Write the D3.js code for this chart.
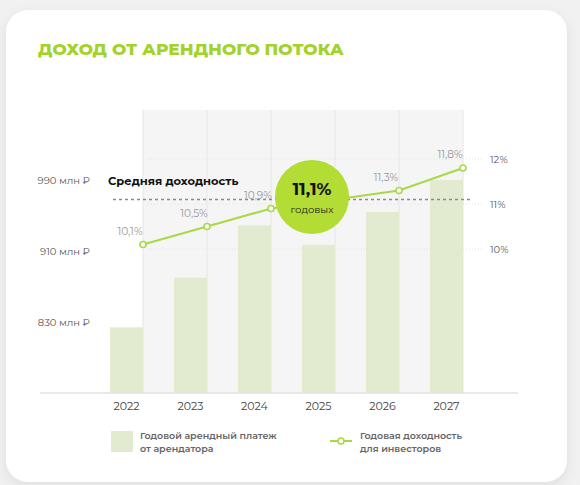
<!DOCTYPE html>
<html><head><meta charset="utf-8">
<script src="https://cdn.jsdelivr.net/npm/d3@7"></script>
<style>body{margin:0;background:#f1f1f1;font-family:Montserrat,"Open Sans","Noto Sans",sans-serif}</style>
</head><body><svg id="c" width="580" height="485"></svg>
<script>
const years=["2022","2023","2024","2025","2026","2027"];
const payments=[824,880,939,917,954,990];
const yields=[10.1,10.5,10.9,11.1,11.3,11.8];
const yieldLabels=["10,1%","10,5%","10,9%","","11,3%","11,8%"];
const leftTicks=[830,910,990];
const rightTicks=[10,11,12];
const avgYield=11.1;

(function(){
const svg=d3.select("#c");
const defs=svg.append("defs");
const f=defs.append("filter").attr("id","sh").attr("x","-10%").attr("y","-10%").attr("width","120%").attr("height","130%");
f.append("feDropShadow").attr("dx",0).attr("dy",4).attr("stdDeviation",6).attr("flood-color","#000").attr("flood-opacity",0.08);
svg.append("rect").attr("x",6).attr("y",10).attr("width",561).attr("height",472).attr("rx",22).attr("fill","#fff").attr("filter","url(#sh)");
svg.append("text").attr("x",38).attr("y",55).text("ДОХОД ОТ АРЕНДНОГО ПОТОКА")
 .attr("fill","#a3d22c").attr("font-size",17).attr("font-weight",800);

const base=393, topY=110;
const x=d3.scalePoint().domain(years).range([143,463]);
const yL=d3.scaleLinear().domain([750,990]).range([base,180]);
const yR=d3.scaleLinear().domain([10,12]).range([249,159]);
const bw=33;

svg.append("rect").attr("x",x(years[0])).attr("y",topY).attr("width",x(years[5])-x(years[0])).attr("height",base-topY).attr("fill","#f5f5f5");
svg.selectAll(".vg").data(years).join("line").attr("x1",d=>x(d)).attr("x2",d=>x(d)).attr("y1",topY).attr("y2",base).attr("stroke","#e6e6e6");
svg.selectAll(".lt").data(leftTicks).join("text").attr("x",90).attr("y",d=>yL(d)+4).attr("text-anchor","end")
 .attr("font-size",10).attr("fill","#555").text(d=>d+" млн ₽");
svg.selectAll(".rg").data(rightTicks).join("line").attr("x1",148).attr("x2",482).attr("y1",d=>yR(d)).attr("y2",d=>yR(d))
 .attr("stroke","#e4e4e4").attr("stroke-dasharray","1,2");
svg.selectAll(".rt").data(rightTicks).join("text").attr("x",490).attr("y",d=>yR(d)+4)
 .attr("font-size",10).attr("fill","#555").text(d=>d+"%");
svg.selectAll(".b").data(payments).join("rect").attr("x",(d,i)=>x(years[i])-bw).attr("width",bw)
 .attr("y",d=>yL(d)).attr("height",d=>base-yL(d)).attr("fill","#e2ebcf");
svg.append("line").attr("x1",40).attr("x2",518).attr("y1",base).attr("y2",base).attr("stroke","#e2e2e2").attr("stroke-width",1.5);
svg.selectAll(".yl").data(years).join("text").attr("x",d=>x(d)-bw/2).attr("y",base+17).attr("text-anchor","middle")
 .attr("font-size",11).attr("fill","#444").text(d=>d);
svg.append("line").attr("x1",113).attr("x2",472).attr("y1",yR(avgYield)).attr("y2",yR(avgYield))
 .attr("stroke","#8a8a8a").attr("stroke-width",1.3).attr("stroke-dasharray","3,3");
svg.append("text").attr("x",108).attr("y",185).text("Средняя доходность").attr("font-size",11.5).attr("font-weight",700).attr("fill","#111");
const pts=yields.map((v,i)=>[x(years[i]),yR(v)]);
svg.append("path").attr("d",d3.line()(pts)).attr("fill","none").attr("stroke","#a9d849").attr("stroke-width",2.2);
svg.selectAll(".p").data(pts).join("circle").attr("cx",d=>d[0]).attr("cy",d=>d[1]).attr("r",3)
 .attr("fill","#fff").attr("stroke","#a9d849").attr("stroke-width",1.6);
svg.selectAll(".vl").data(yieldLabels).join("text").attr("x",(d,i)=>x(years[i])-13).attr("y",(d,i)=>yR(yields[i])-10)
 .attr("text-anchor","middle").attr("font-size",10.5).attr("fill","#999").text(d=>d);
const cx=x("2025")-23;
svg.append("circle").attr("cx",cx).attr("cy",197).attr("r",37).attr("fill","#b3dc34");
svg.append("text").attr("x",cx).attr("y",195).attr("text-anchor","middle").attr("font-size",17).attr("font-weight",700).attr("fill","#111").text("11,1%");
svg.append("text").attr("x",cx).attr("y",213).attr("text-anchor","middle").attr("font-size",10).attr("fill","#222").text("годовых");
svg.append("rect").attr("x",111).attr("y",431).attr("width",22).attr("height",21).attr("fill","#e2ebcf");
const lg=[["Годовой арендный платеж","от арендатора",140],["Годовая доходность","для инвесторов",360]];
lg.forEach(l=>{
 const t=svg.append("text").attr("x",l[2]).attr("y",439).attr("font-size",9.5).attr("font-weight",600).attr("fill","#666");
 t.append("tspan").text(l[0]);
 t.append("tspan").attr("x",l[2]).attr("dy",13).text(l[1]);
});
svg.append("line").attr("x1",330).attr("x2",352).attr("y1",441).attr("y2",441).attr("stroke","#a9d849").attr("stroke-width",2);
svg.append("circle").attr("cx",341).attr("cy",441).attr("r",3).attr("fill","#fff").attr("stroke","#a9d849").attr("stroke-width",1.5);
})();
</script></body></html>
